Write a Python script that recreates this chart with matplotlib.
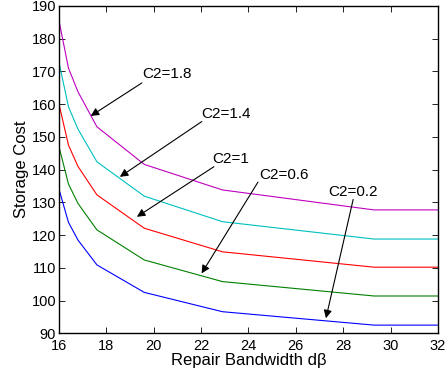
import matplotlib
matplotlib.use("Agg")
import matplotlib.pyplot as plt

plt.rcParams['font.family'] = ['Liberation Sans', 'DejaVu Sans']

# repair bandwidth breakpoints (d*beta)
bandwidth = [16, 16.4, 16.8, 17.6, 19.6, 22.9, 29.3, 32]

# storage cost per C2 value
cost_c2_02 = [134.0, 123.9, 118.5, 110.9, 102.5, 96.6, 92.5, 92.5]
cost_c2_06 = [147.0, 135.6, 129.7, 121.6, 112.4, 105.8, 101.4, 101.4]
cost_c2_10 = [160.0, 147.5, 141.0, 132.3, 122.1, 114.9, 110.2, 110.2]
cost_c2_14 = [172.8, 159.2, 152.4, 142.4, 131.9, 124.1, 118.8, 118.8]
cost_c2_18 = [185.5, 171.0, 163.8, 153.1, 141.6, 133.8, 127.7, 127.7]

series = [
    (cost_c2_02, (0, 0, 1)),
    (cost_c2_06, (0, 0.5, 0)),
    (cost_c2_10, (1, 0, 0)),
    (cost_c2_14, (0, 0.75, 0.75)),
    (cost_c2_18, (0.75, 0, 0.75)),
]

# annotation labels: text, text position, arrow tail, arrow head
labels = ['C2=1.8', 'C2=1.4', 'C2=1', 'C2=0.6', 'C2=0.2']
text_pos = [(20.56, 169.2), (23.05, 156.9), (23.26, 143.2), (25.49, 138.4), (28.4, 133.3)]
arrow_tail = [(19.5, 166.5), (22.03, 154.7), (22.54, 140.9), (24.4, 136.2), (28.42, 130.9)]
arrow_head = [(17.34, 156.4), (18.57, 137.8), (19.29, 125.6), (22.02, 108.3), (27.27, 94.6)]

fig = plt.figure(figsize=(4.46, 3.77), dpi=100)
ax = fig.add_axes([0.1323, 0.1159, 0.8497, 0.8682])

for values, color in series:
    ax.plot(bandwidth, values, color=color, lw=0.8)

for lab, tp, tail, head in zip(labels, text_pos, arrow_tail, arrow_head):
    ax.annotate('', xy=head, xytext=tail,
                arrowprops=dict(arrowstyle='-|>', color='black', lw=0.8,
                                mutation_scale=12, shrinkA=0, shrinkB=0))
    ax.text(tp[0], tp[1], lab, ha='center', va='center', fontsize=11)

ax.set_xlim(16, 32)
ax.set_ylim(90, 190)
ax.set_xticks(range(16, 33, 2))
ax.set_yticks(range(90, 191, 10))
ax.tick_params(direction='in', top=True, right=True, labelsize=10.5, length=4, width=0.6)
ax.tick_params(axis='x', pad=4)
ax.tick_params(axis='y', pad=2)
for sp in ax.spines.values():
    sp.set_linewidth(1.0)

ax.set_xlabel('Repair Bandwidth dβ', fontsize=12, labelpad=0)
ax.set_ylabel('Storage Cost', fontsize=12, labelpad=2)

fig.savefig('out.png', dpi=100)
